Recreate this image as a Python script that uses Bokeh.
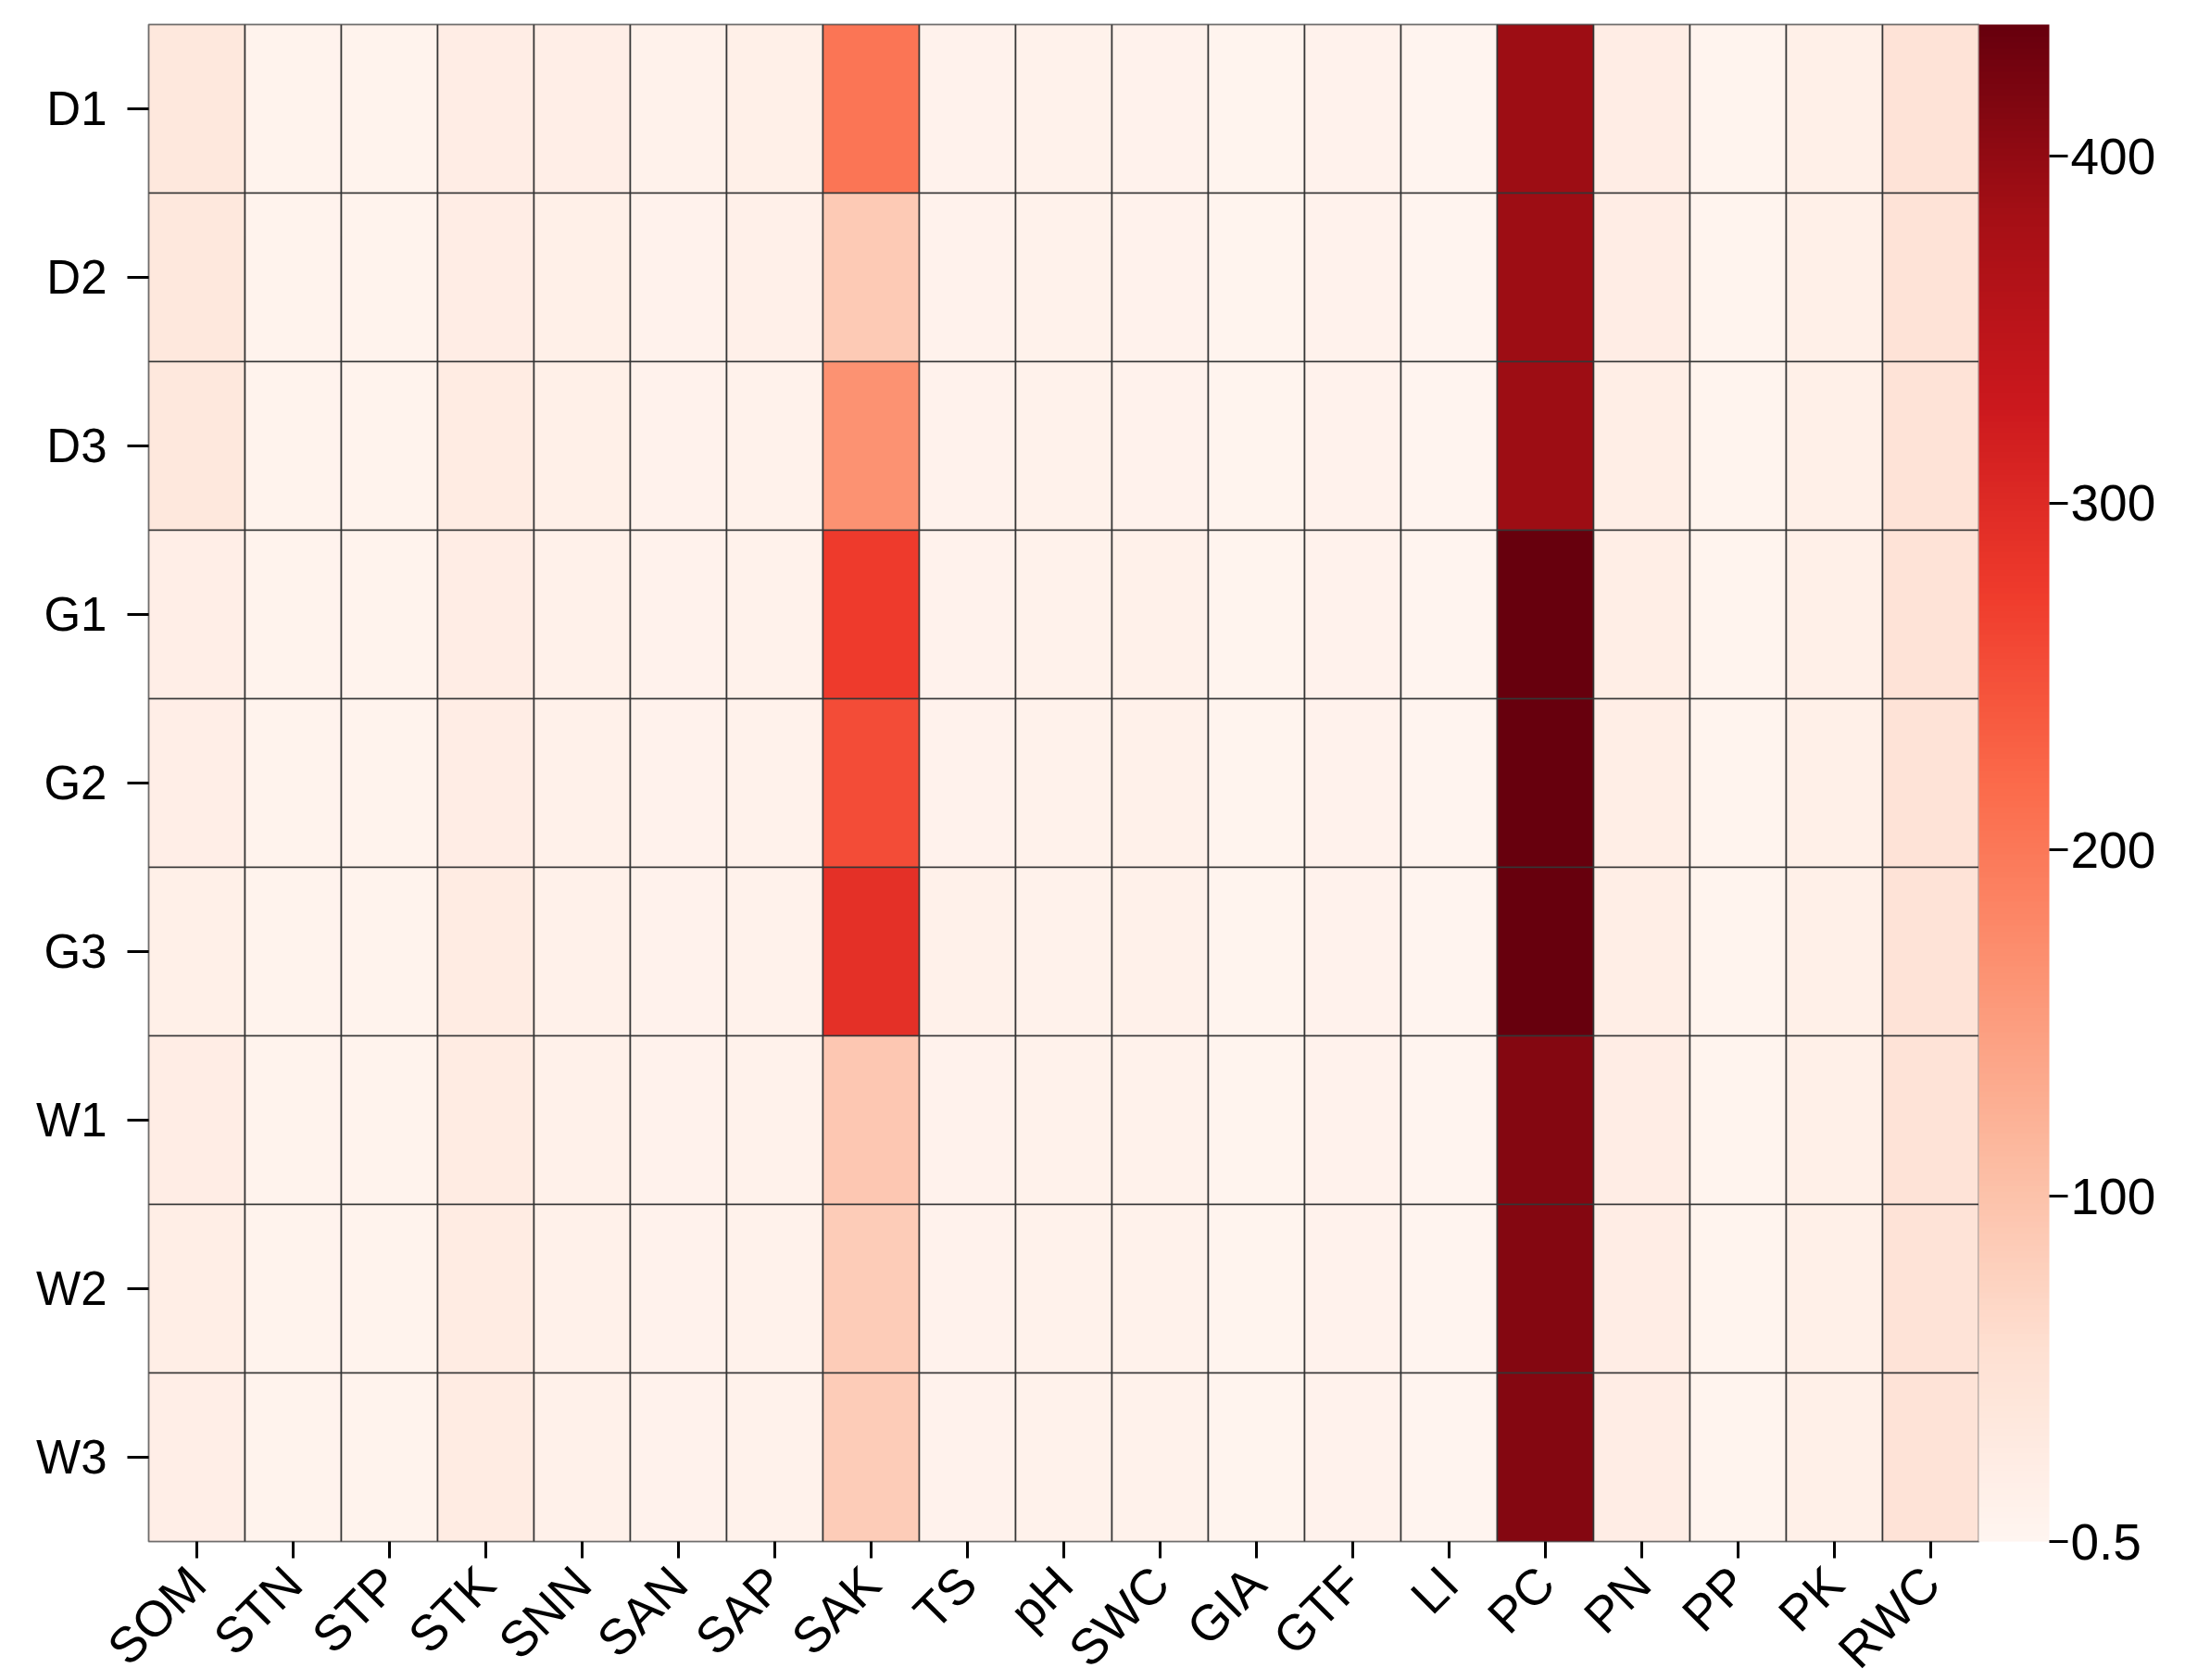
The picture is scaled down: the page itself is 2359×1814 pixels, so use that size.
import math
from bokeh.plotting import figure
from bokeh.models import (ColumnDataSource, LinearColorMapper, ColorBar, FixedTicker,
                          FactorRange)
from bokeh.palettes import Reds256
from bokeh.embed import file_html
from bokeh.resources import INLINE

columns = ["SOM", "STN", "STP", "STK", "SNN", "SAN", "SAP", "SAK", "TS", "pH",
           "SWC", "GIA", "GTF", "LI", "PC", "PN", "PP", "PK", "RWC"]
rows = ["D1", "D2", "D3", "G1", "G2", "G3", "W1", "W2", "W3"]

D1 = [35, 6, 6, 22, 18, 10, 15, 205, 8, 10, 8, 5, 8, 3, 390, 22, 5, 15, 48]
D2 = [35, 6, 6, 22, 15, 8, 14, 88, 8, 10, 8, 5, 8, 3, 390, 22, 5, 15, 48]
D3 = [35, 6, 6, 25, 15, 8, 10, 165, 8, 10, 8, 5, 8, 3, 390, 20, 5, 15, 48]
G1 = [18, 6, 6, 22, 12, 8, 10, 275, 8, 10, 12, 5, 8, 3, 438, 20, 5, 15, 48]
G2 = [18, 6, 6, 22, 12, 8, 10, 255, 8, 10, 12, 5, 8, 3, 438, 20, 5, 15, 48]
G3 = [15, 6, 6, 25, 12, 8, 10, 290, 12, 10, 12, 5, 8, 3, 438, 20, 5, 15, 48]
W1 = [22, 6, 6, 25, 12, 8, 10, 92, 8, 10, 10, 5, 8, 3, 412, 22, 5, 15, 48]
W2 = [20, 6, 6, 25, 12, 8, 10, 85, 8, 10, 10, 5, 8, 3, 412, 22, 5, 15, 48]
W3 = [18, 6, 6, 25, 12, 8, 10, 85, 8, 10, 10, 5, 8, 3, 412, 22, 5, 15, 48]
row_values = [D1, D2, D3, G1, G2, G3, W1, W2, W3]

cbar_ticks = [0.5, 100, 200, 300, 400]
cbar_labels = ["0.5", "100", "200", "300", "400"]
vmin, vmax = 0.5, 438

xs, ys, vs = [], [], []
for r, vals in zip(rows, row_values):
    for c, v in zip(columns, vals):
        xs.append(c)
        ys.append(r)
        vs.append(v)
src = ColumnDataSource(dict(x=xs, y=ys, v=vs))

mapper = LinearColorMapper(palette=list(Reds256[::-1]), low=vmin, high=vmax)

FONT = "Liberation Sans"

p = figure(x_range=FactorRange(*columns), y_range=FactorRange(*rows[::-1]),
           output_backend="svg", toolbar_location=None,
           frame_width=1976, frame_height=1638,
           min_border_left=160, min_border_top=26, min_border_bottom=140,
           min_border_right=10)

p.rect(x="x", y="y", width=1, height=1, source=src,
       fill_color={"field": "v", "transform": mapper},
       line_color="#363636", line_width=1.6)

p.grid.visible = False
p.outline_line_color = "#8c8c8c"
p.outline_line_width = 2
p.background_fill_color = "white"

for ax in (p.xaxis[0], p.yaxis[0]):
    ax.axis_line_color = None
    ax.major_tick_line_color = "black"
    ax.major_tick_line_width = 3
    ax.major_tick_in = 0
    ax.minor_tick_line_color = None
    ax.major_label_text_font = FONT
    ax.major_label_text_color = "black"

p.yaxis.major_label_text_font_size = "51px"
p.yaxis.major_tick_out = 23
p.yaxis.major_label_standoff = 22
p.xaxis.major_label_text_font_size = "54px"
p.xaxis.major_tick_out = 18
p.xaxis.major_label_orientation = math.pi / 4
p.xaxis.major_label_standoff = 18

cb = ColorBar(color_mapper=mapper, ticker=FixedTicker(ticks=cbar_ticks),
              major_label_overrides={t: l for t, l in zip(cbar_ticks, cbar_labels)},
              width=76, padding=0, margin=4,
              major_tick_out=20, major_tick_in=0,
              major_tick_line_color="black", major_tick_line_width=3,
              major_label_text_font=FONT, major_label_text_font_size="55px",
              major_label_text_color="black", label_standoff=3,
              bar_line_color=None, border_line_color=None,
              background_fill_color="white")
p.add_layout(cb, "right")

open("out.html", "w").write(file_html(p, INLINE))
